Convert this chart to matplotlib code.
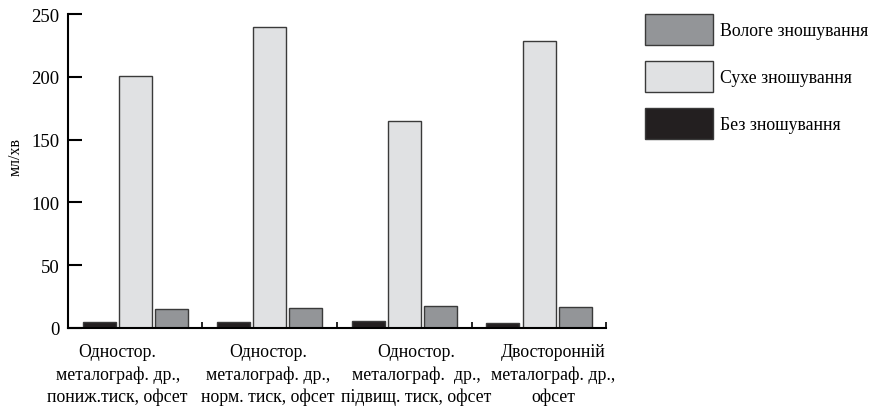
import matplotlib
matplotlib.use('Agg')
import matplotlib.pyplot as plt
import numpy as np

plt.rcParams['font.family'] = ['Liberation Serif', 'DejaVu Serif']

# групи (підписи осі X)
groups = ['Одностор.\nметалограф. др.,\nпониж.тиск, офсет',
          'Одностор.\nметалограф. др.,\nнорм. тиск, офсет',
          'Одностор.\nметалограф.  др.,\nпідвищ. тиск, офсет',
          'Двосторонній\nметалограф. др.,\nофсет']
no_wear = [4.8, 4.5, 5.8, 4.2]
dry_wear = [201, 240, 165, 229]
wet_wear = [15.0, 15.6, 17.5, 16.7]
y_ticks = [0, 50, 100, 150, 200, 250]

fig = plt.figure(figsize=(8.7, 4.1), dpi=100)
ax = fig.add_axes([0.078, 0.198, 0.619, 0.765])

x = np.arange(len(groups))
w = 0.245
step = 0.268
edge = '#3a3a3a'
b1 = ax.bar(x - step, no_wear, w, color='#231f20', edgecolor=edge, linewidth=1)
b2 = ax.bar(x, dry_wear, w, color='#e0e1e3', edgecolor=edge, linewidth=1)
b3 = ax.bar(x + step, wet_wear, w, color='#939598', edgecolor=edge, linewidth=1)

ax.set_xlim(-0.5, len(groups) - 0.5)
ax.set_ylim(0, 250)
ax.set_yticks(y_ticks)
ax.tick_params(axis='y', direction='in', length=10, width=1.5, labelsize=13.5, pad=6)
ax.set_xticks(np.arange(len(groups) + 1) - 0.5)
ax.set_xticklabels([])
ax.tick_params(axis='x', which='major', direction='in', length=4, width=1.2)
# підписи груп трохи зсунуті, як в оригіналі
label_shift = [-0.13, -0.015, 0.09, 0.108]
ax.set_xticks(x + np.array(label_shift), minor=True)
ax.set_xticklabels(groups, minor=True, fontsize=12.8, linespacing=1.38)
ax.tick_params(axis='x', which='minor', length=0, pad=11)

for s in ['top', 'right']:
    ax.spines[s].set_visible(False)
for s in ['left', 'bottom']:
    ax.spines[s].set_linewidth(1.5)

ax.set_ylabel('мл/хв', fontsize=11.5)
ax.yaxis.set_label_coords(-0.083, 0.548)

fig.legend([b3, b2, b1], ['Вологе зношування', 'Сухе зношування', 'Без зношування'],
           loc='upper left', bbox_to_anchor=(645 / 870, 1 - 15 / 410),
           frameon=False, fontsize=12.8, handlelength=3.83, handleheight=2.31,
           labelspacing=0.9, borderpad=0, borderaxespad=0, handletextpad=0.4)

fig.savefig('out.png', dpi=100)
